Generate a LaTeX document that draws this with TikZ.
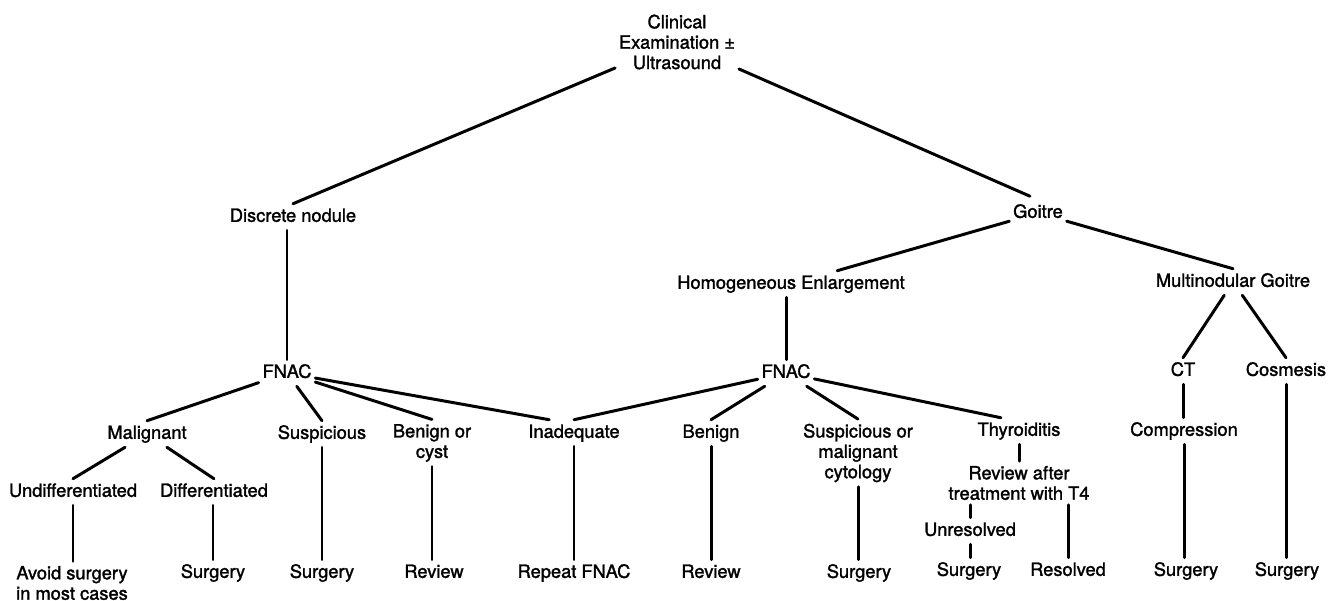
\documentclass[tikz,border=0pt]{standalone}
\usepackage{fontspec}
\setmainfont{TeX Gyre Heros}[FakeBold=1.6]
\usepackage{xcolor}
\usepackage{tikz}
\usetikzlibrary{calc}
\definecolor{ink}{HTML}{000000}
\tikzset{
  link/.style={draw=ink, line width=1.7pt, line cap=round},
  lab/.style={text=ink, font=\fontsize{10.4}{11.6}\selectfont, inner xsep=2pt, inner ysep=2.5pt, text height=7.6pt, text depth=2.1pt},
  labm/.style={text=ink, font=\fontsize{10.4}{11.6}\selectfont, inner xsep=2pt, inner ysep=2.5pt, align=center}
}

\begin{document}
\begin{tikzpicture}[x=0.02cm, y=-0.02cm]
  \useasboundingbox (0,0) rectangle (1339,601);
  \node[labm] (root) at (677,42) {Clinical\\Examination ±\\Ultrasound};
  \node[lab] (disc) at (293,217) {Discrete nodule};
  \node[lab] (goitre) at (1038,213) {Goitre};
  \node[lab] (homog) at (791,284) {Homogeneous Enlargement};
  \node[lab] (multi) at (1233,282) {Multinodular Goitre};
  \node[lab] (fnacA) at (287,373) {FNAC};
  \node[lab] (fnacB) at (786,373) {FNAC};
  \node[lab] (ct) at (1183,371) {CT};
  \node[lab] (cosm) at (1286,371) {Cosmesis};
  \node[lab] (malig) at (147,434) {Malignant};
  \node[lab] (susp) at (322,434) {Suspicious};
  \node[labm] (bencyst) at (432,443) {Benign or\\cyst};
  \node[lab] (inadeq) at (574,433) {Inadequate};
  \node[lab] (benign) at (711,433) {Benign};
  \node[labm] (suspmal) at (858,453) {Suspicious or\\malignant\\cytology};
  \node[lab] (thyro) at (1019,431) {Thyroiditis};
  \node[lab] (compr) at (1184,431) {Compression};
  \node[lab] (undiff) at (73,492) {Undifferentiated};
  \node[lab] (diff) at (214,492) {Differentiated};
  \node[labm] (revtx) at (1019,483) {Review after\\treatment with T4};
  \node[lab] (unres) at (970,531) {Unresolved};
  \node[labm] (avoid) at (72,583) {Avoid surgery\\in most cases};
  \node[lab] (surgA) at (213,573) {Surgery};
  \node[lab] (surgB) at (322,573) {Surgery};
  \node[lab] (revA) at (434,573) {Review};
  \node[lab] (repeat) at (574,573) {Repeat FNAC};
  \node[lab] (revB) at (711,573) {Review};
  \node[lab] (surgC) at (859,573) {Surgery};
  \node[lab] (surgD) at (969,571) {Surgery};
  \node[lab] (resolved) at (1068,571) {Resolved};
  \node[lab] (surgE) at (1186,571) {Surgery};
  \node[lab] (surgF) at (1287,571) {Surgery};

  \draw[link] (root) -- (disc.north);
  \draw[link, shorten >=5pt] (root) -- (goitre.north);
  \draw[link] (goitre) -- (homog);
  \draw[link] (goitre) -- (multi.north);
  \draw[link] (fnacA.north |- disc.south) -- (fnacA.north);
  \draw[link] (fnacB.north |- homog.south) -- (fnacB.north);
  \draw[link] (multi) -- (ct.north);
  \draw[link] (multi) -- (cosm.north);
  \draw[link] (fnacA) -- (malig.north);
  \draw[link] (fnacA) -- (susp.north);
  \draw[link] (fnacA) -- (bencyst.north);
  \draw[link] (fnacA) -- ($(inadeq.north)!0.5!(inadeq.north west)$);
  \draw[link] (fnacB) -- (inadeq.north);
  \draw[link] (fnacB) -- (benign.north);
  \draw[link] (fnacB) -- (suspmal.north);
  \draw[link] (fnacB) -- ($(thyro.north)!0.4!(thyro.north west)$);
  \draw[link] (malig) -- (undiff.north);
  \draw[link] (malig) -- (diff.north);
  \draw[link] (undiff.south) -- (undiff.south |- avoid.north);
  \draw[link] (surgA.north |- diff.south) -- (surgA.north);
  \draw[link] (susp.south) -- (susp.south |- surgB.north);
  \draw[link] (bencyst.south) -- (bencyst.south |- revA.north);
  \draw[link] (inadeq.south) -- (inadeq.south |- repeat.north);
  \draw[link] (benign.south) -- (benign.south |- revB.north);
  \draw[link] (suspmal.south) -- (suspmal.south |- surgC.north);
  \draw[link] (thyro.south) -- (thyro.south |- revtx.north);
  \draw[link] (unres.north |- revtx.south) -- (unres.north);
  \draw[link] (unres.south) -- (unres.south |- surgD.north);
  \draw[link] (resolved.north |- revtx.south) -- (resolved.north);
  \draw[link] (ct.south) -- (ct.south |- compr.north);
  \draw[link] (compr.south) -- (compr.south |- surgE.north);
  \draw[link] (cosm.south) -- (cosm.south |- surgF.north);
\end{tikzpicture}
\end{document}
